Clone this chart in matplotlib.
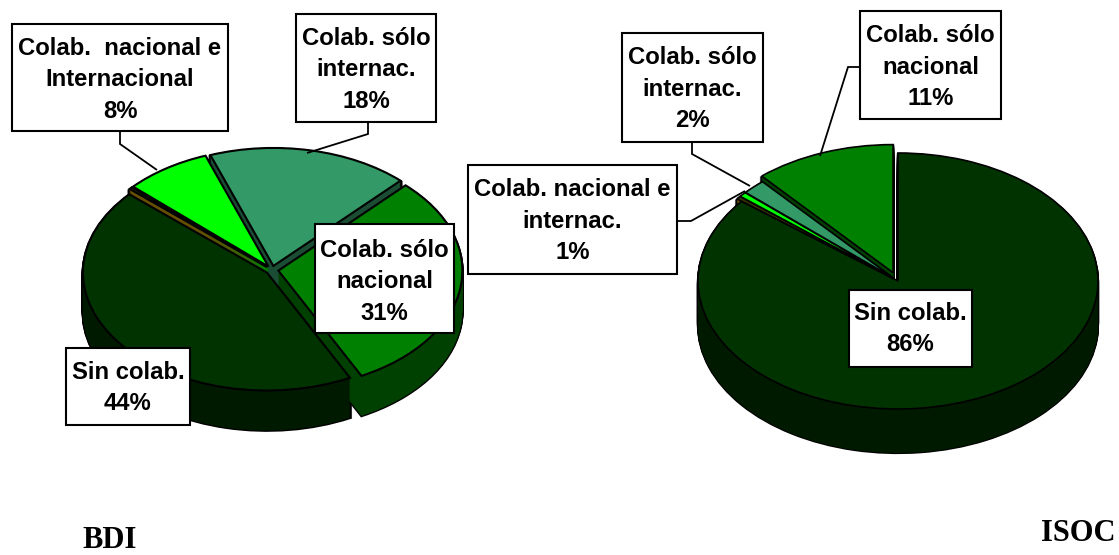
import matplotlib
matplotlib.use("Agg")
import matplotlib.pyplot as plt
from matplotlib.patches import Rectangle

plt.rcParams['font.family'] = ['Liberation Sans', 'DejaVu Sans']

W, H = 1119, 555

# ---- data ----
bdi_names = ["Colab. sólo internac.", "Colab. sólo nacional", "Sin colab.", "Otro", "Colab. nacional e Internacional"]
bdi_values = [17.7, 30.4, 44.0, 0.3, 7.6]
bdi_labels = ["Colab. sólo\ninternac.\n18%", "Colab. sólo\nnacional\n31%", "Sin colab.\n44%",
              None, "Colab.  nacional e\nInternacional\n8%"]

isoc_names = ["Sin colab.", "Otro", "Colab. nacional e internac.", "Colab. sólo internac.", "Colab. sólo nacional"]
isoc_values = [85.7, 0.4, 0.6, 1.9, 11.4]
isoc_labels = ["Sin colab.\n86%", None, "Colab. nacional e\ninternac.\n1%",
               "Colab. sólo\ninternac.\n2%", "Colab. sólo\nnacional\n11%"]

bdi_top = ["#339966", "#008000", "#003300", "#333300", "#00FF00"]
bdi_rim = ["#1A4D33", "#004000", "#001A00", "#665000", "#008000"]
isoc_top = ["#003300", "#333300", "#00FF00", "#339966", "#008000"]
isoc_rim = ["#001A00", "#665000", "#008000", "#1A4D33", "#004000"]

fig = plt.figure(figsize=(W / 100, H / 100), dpi=100, facecolor="white")


def pie3d(values, tops, rims, startangle, explode, cx, cy, rx, ry, depth, edge):
    ax = fig.add_axes([0, 0, 1, 1], facecolor="none")
    step = 1.0 / ry
    layers = [(depth - i) * step for i in range(depth)]
    for off in layers:
        ax.pie(values, colors=["black"] * len(values), explode=explode, startangle=startangle,
               counterclock=False, center=(0, -off),
               wedgeprops=dict(edgecolor="black", linewidth=edge + 0.4))
    for off in layers:
        ax.pie(values, colors=rims, explode=explode, startangle=startangle,
               counterclock=False, center=(0, -off),
               wedgeprops=dict(edgecolor="none", linewidth=0))
    ax.pie(values, colors=tops, explode=explode, startangle=startangle, counterclock=False,
           center=(0, 0), wedgeprops=dict(edgecolor="black", linewidth=edge))
    ax.set_aspect("auto")
    ax.set_xlim(-cx / rx, (W - cx) / rx)
    ax.set_ylim(-(H - cy) / ry, cy / ry)
    ax.axis("off")


pie3d(bdi_values, bdi_top, bdi_rim, 110, [0.035] * 5, 272, 270, 184, 118, 40, 1.5)
pie3d(isoc_values, isoc_top, isoc_rim, 90, [0, 0.03, 0.03, 0.03, 0.07], 898, 281, 200, 128, 44, 1.2)

ov = fig.add_axes([0, 0, 1, 1], facecolor="none")
ov.set_xlim(0, W)
ov.set_ylim(H, 0)
ov.axis("off")

leaders = [
    ([120, 120, 157], [131, 144, 170]),
    ([368, 368, 307], [122, 134, 153]),
    ([692, 692, 750], [142, 154, 186]),
    ([677, 691, 745], [221, 221, 191]),
    ([860, 848, 820], [67, 67, 156]),
]
for xs, ys in leaders:
    ov.plot(xs, ys, color="black", lw=1.3, solid_capstyle="butt", solid_joinstyle="miter")

boxes = [
    (bdi_labels[4], 12, 24, 228, 131, 80),
    (bdi_labels[0], 296, 14, 436, 122, 70),
    (bdi_labels[1], 315, 224, 454, 333, 282),
    (bdi_labels[2], 66, 348, 190, 425, 388),
    (isoc_labels[3], 622, 33, 763, 142, 89),
    (isoc_labels[2], 468, 165, 677, 274, 221),
    (isoc_labels[4], 860, 11, 1001, 119, 67),
    (isoc_labels[0], 849, 290, 972, 367, 329),
]
for txt, x0, y0, x1, y1, yc in boxes:
    ov.add_patch(Rectangle((x0, y0), x1 - x0, y1 - y0, facecolor="white", edgecolor="black", lw=1.5, zorder=5))
    ov.text((x0 + x1) / 2, yc, txt, ha="center", va="center", fontsize=17.2, fontweight="bold",
            color="black", linespacing=1.47, zorder=6)

ov.text(110, 548, "BDI", ha="center", va="baseline", fontsize=22, fontweight="bold",
        family="Liberation Serif", color="black")
ov.text(1078, 541, "ISOC", ha="center", va="baseline", fontsize=22, fontweight="bold",
        family="Liberation Serif", color="black")

fig.savefig("out.png", dpi=100, facecolor="white")
